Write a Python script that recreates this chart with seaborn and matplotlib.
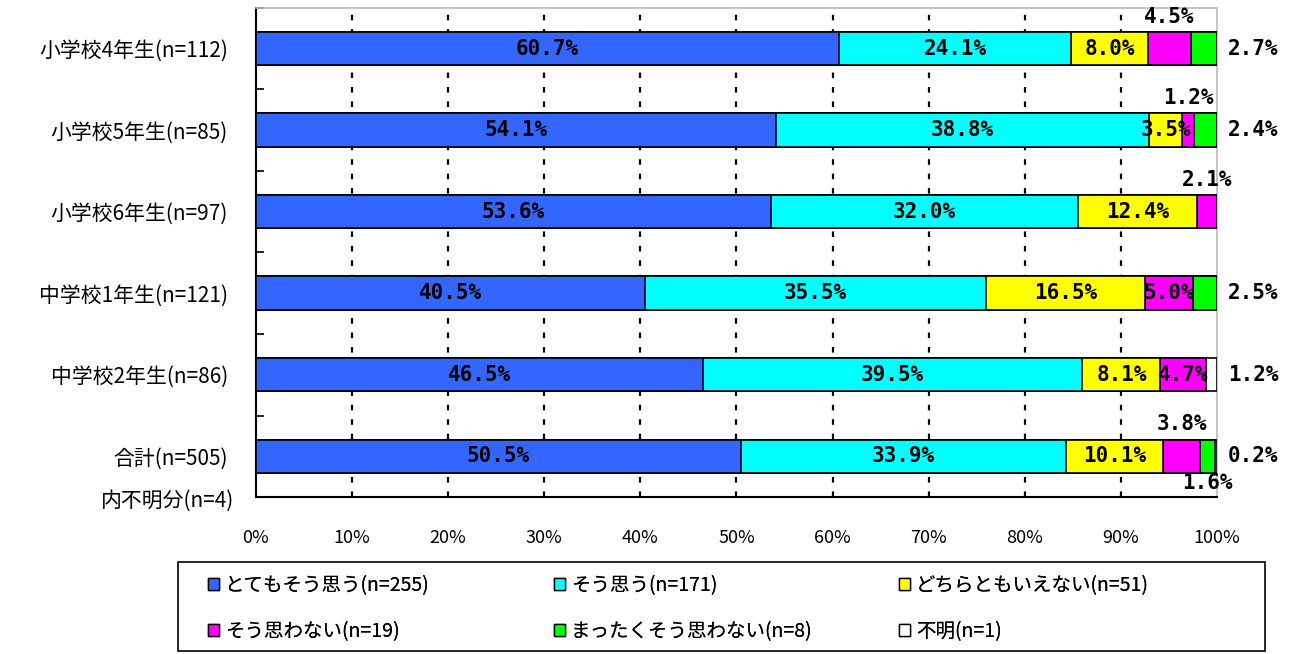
import numpy as np
import pandas as pd
import seaborn as sns
import matplotlib.pyplot as plt
import matplotlib.transforms as mtransforms
from matplotlib.patches import Patch, Rectangle

# data
categories = ['小学校4年生(n=112)', '小学校5年生(n=85)', '小学校6年生(n=97)',
              '中学校1年生(n=121)', '中学校2年生(n=86)', '合計(n=505)']
series = ['とてもそう思う(n=255)', 'そう思う(n=171)', 'どちらともいえない(n=51)',
          'そう思わない(n=19)', 'まったくそう思わない(n=8)', '不明(n=1)']
very_agree = [60.7, 54.1, 53.6, 40.5, 46.5, 50.5]
agree = [24.1, 38.8, 32.0, 35.5, 39.5, 33.9]
neutral = [8.0, 3.5, 12.4, 16.5, 8.1, 10.1]
disagree = [4.5, 1.2, 2.1, 5.0, 4.7, 3.8]
strongly_disagree = [2.7, 2.4, 0.0, 2.5, 0.0, 1.6]
unknown = [0.0, 0.0, 0.0, 0.0, 1.2, 0.2]
note_text = '内不明分(n=4)'

colors = ['#3366FF', '#00FFFF', '#FFFF00', '#FF00FF', '#00FF00', '#FFFFFF']

# where small values are written outside the bar
outside = {(0, 3): 'above', (0, 4): 'right', (1, 3): 'above', (1, 4): 'right',
           (2, 3): 'above', (3, 4): 'right', (4, 5): 'right', (5, 3): 'above',
           (5, 4): 'below', (5, 5): 'right'}

df = pd.DataFrame({'category': categories})
cols = [very_agree, agree, neutral, disagree, strongly_disagree, unknown]
for name, vals in zip(series, cols):
    df[name] = vals

vals = df[series].to_numpy()
totals = vals.sum(axis=1, keepdims=True)
ends = np.cumsum(vals, axis=1) / totals * 100
starts = ends - vals / totals * 100
for i, name in enumerate(series):
    df['end_' + str(i)] = ends[:, i]

jp = ['Noto Sans CJK JP', 'DejaVu Sans']
plt.rcParams['font.family'] = jp

fig = plt.figure(figsize=(12.92, 6.54), dpi=100)
ax = fig.add_axes([0.198, 0.240, 0.744, 0.748])

# stacked bars: draw cumulative bars back to front
for i in reversed(range(len(series))):
    sns.barplot(data=df, x='end_' + str(i), y='category', color=colors[i],
                edgecolor='black', linewidth=1.2, width=0.41, saturation=1,
                orient='h', ax=ax, zorder=3)

# value labels
lbl_font = dict(family='DejaVu Sans Mono', fontweight='bold', fontsize=15, color='black')
for r in range(len(categories)):
    for i in range(len(series)):
        v = vals[r, i]
        if v == 0:
            continue
        txt = f'{v:.1f}%'
        mid = (starts[r, i] + ends[r, i]) / 2
        pos = outside.get((r, i))
        if pos == 'above':
            ax.text(mid, r - 0.39, txt, ha='center', va='center', zorder=5, **lbl_font)
        elif pos == 'below':
            ax.text(mid, r + 0.33, txt, ha='center', va='center', zorder=5, clip_on=False, **lbl_font)
        elif pos == 'right':
            ax.text(101.1, r, txt, ha='left', va='center', zorder=5, clip_on=False, **lbl_font)
        else:
            ax.text(mid, r, txt, ha='center', va='center', zorder=5, **lbl_font)

ax.set_xlim(0, 100)
ax.set_ylim(len(categories) - 0.5, -0.5)
ax.set_xticks(range(0, 101, 10))
ax.set_xticklabels([f'{t}%' for t in range(0, 101, 10)], fontsize=13)
ax.set_xlabel('')
ax.set_ylabel('')
ax.tick_params(axis='x', length=0, pad=23)
ax.tick_params(axis='y', length=0, pad=20, labelsize=15)
ax.set_yticks(np.arange(-0.5, len(categories), 1), minor=True)
ax.tick_params(axis='y', which='minor', direction='in', length=6, width=1.2, color='black')

for t in range(10, 100, 10):
    ax.axvline(t, color='black', linestyle=(0, (2.5, 4)), linewidth=1.6, zorder=1)

for side in ['top', 'right']:
    ax.spines[side].set_color('#BBBBBB')
    ax.spines[side].set_linewidth(1.2)
for side in ['left', 'bottom']:
    ax.spines[side].set_color('black')
    ax.spines[side].set_linewidth(1.5)

trans = mtransforms.blended_transform_factory(ax.transAxes, ax.transData)
ax.text(-0.022, 5.54, note_text, transform=trans, ha='right', va='center', fontsize=15)

# legend: three columns, row-major like the original, in one framed box
handles = [Patch(facecolor=c, edgecolor='black', linewidth=1) for c in colors]
col_x = [0.161, 0.429, 0.696]
for c, x in enumerate(col_x):
    idx = [c, c + 3]
    leg = fig.legend([handles[k] for k in idx], [series[k] for k in idx],
                     loc='upper left', bbox_to_anchor=(x, 0.121), frameon=False,
                     fontsize=14, handlelength=0.55, handleheight=0.55,
                     handletextpad=0.3, labelspacing=1.3, borderpad=0,
                     borderaxespad=0)
    fig.add_artist(leg)
fig.add_artist(Rectangle((0.138, 0.004), 0.841, 0.137, transform=fig.transFigure,
                         fill=False, edgecolor='black', linewidth=1.2))

fig.savefig('out.png', dpi=100)
